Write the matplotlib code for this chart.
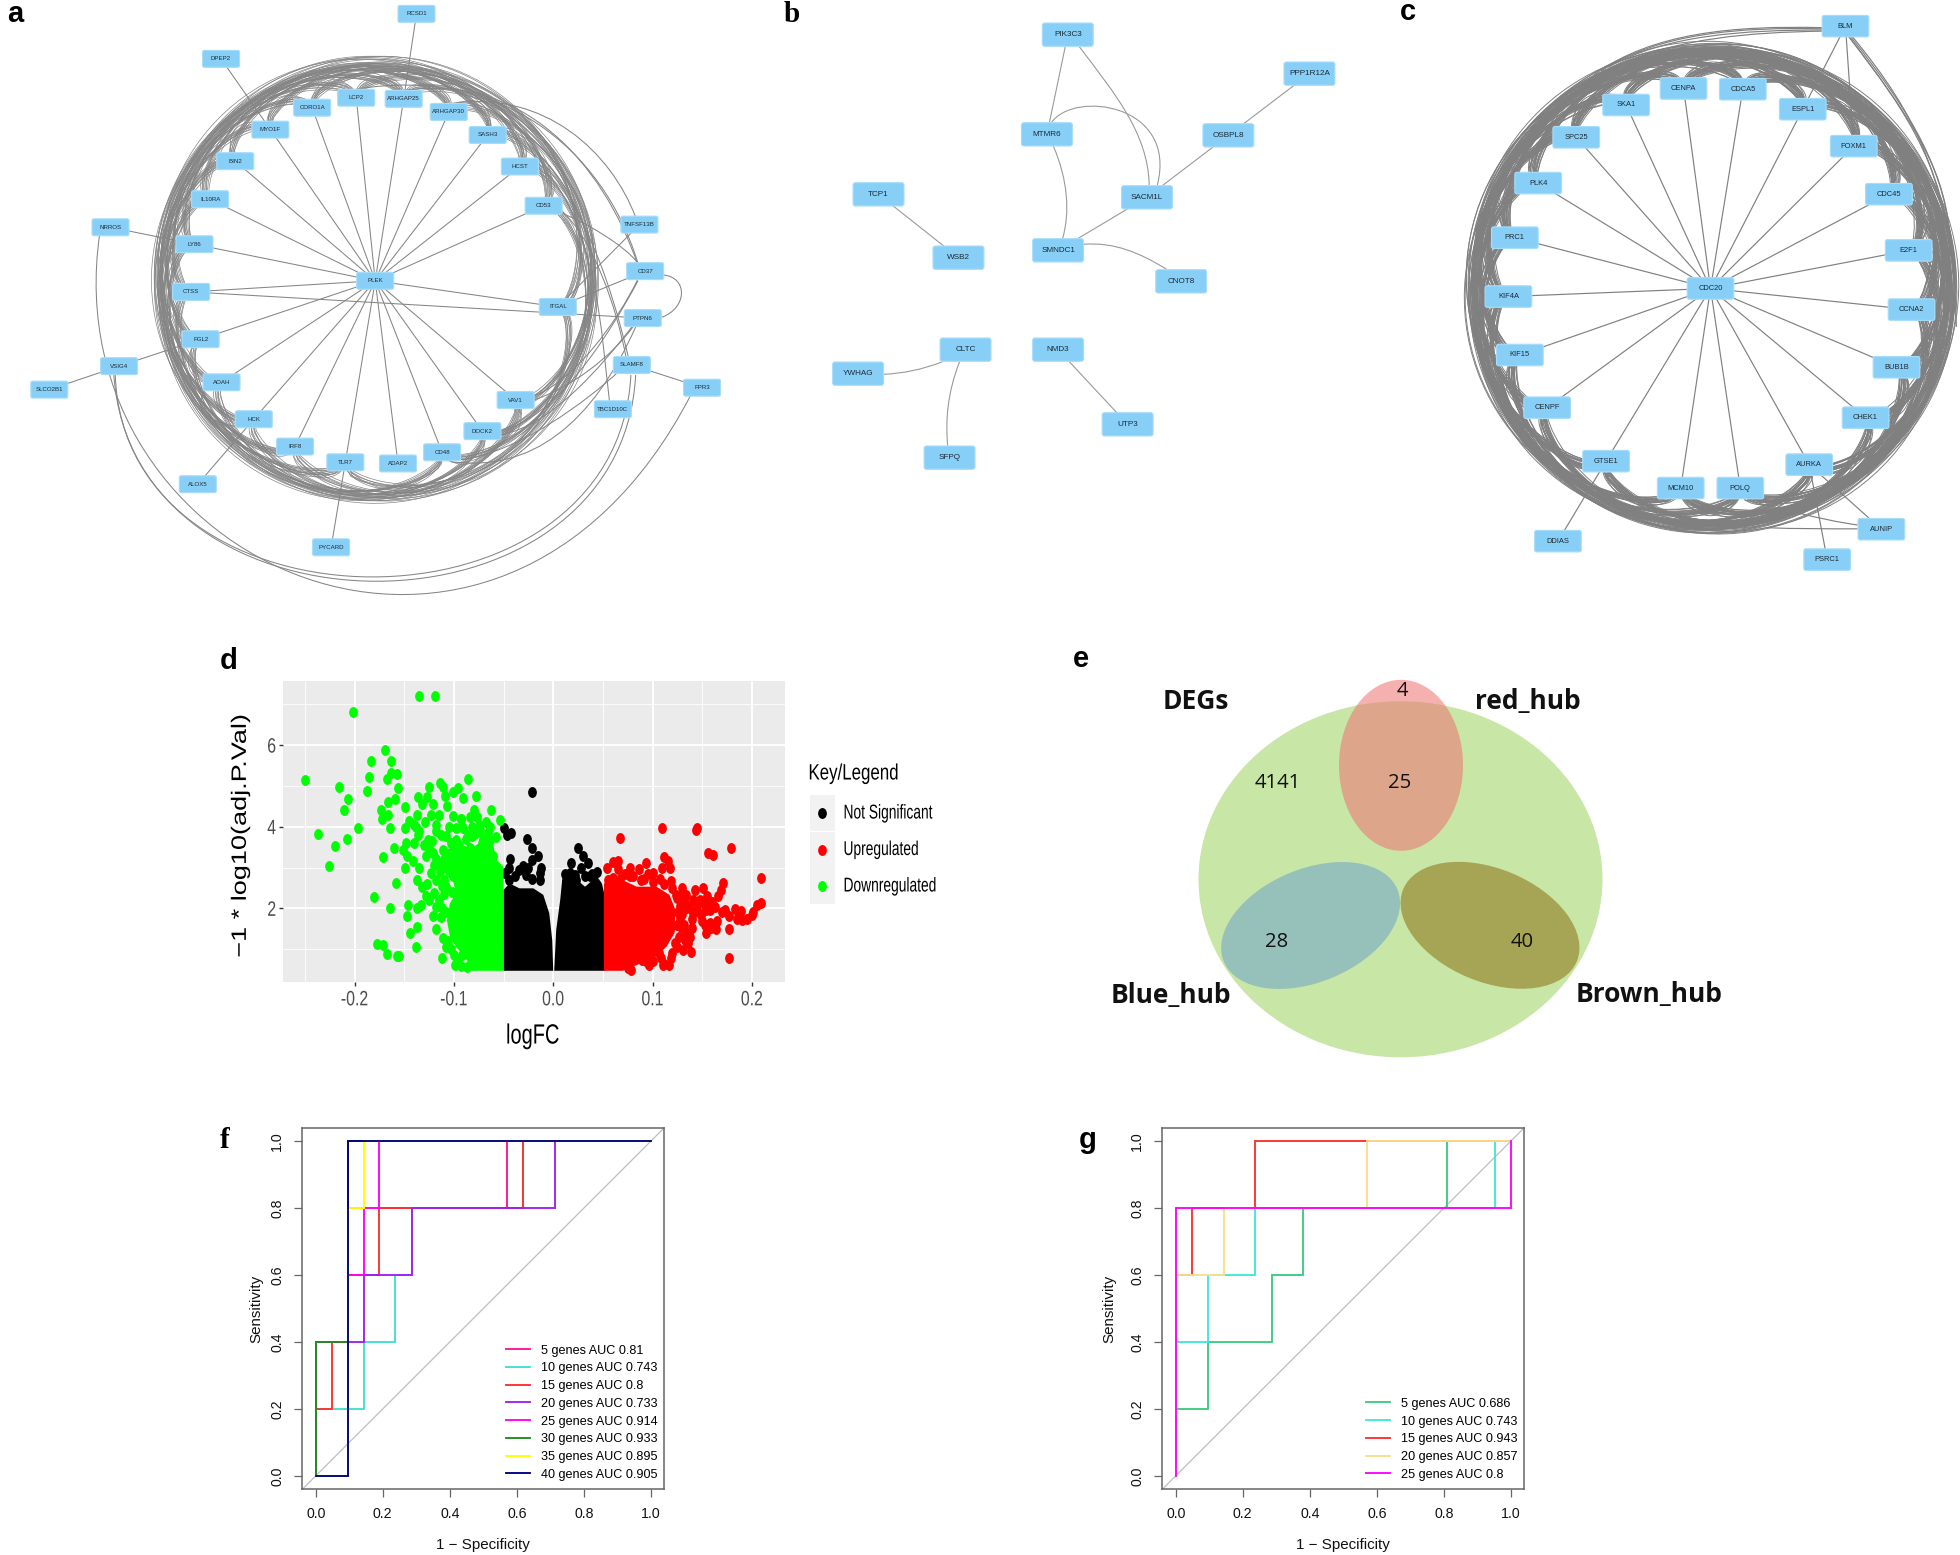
#!/usr/bin/env python
"""Hub-gene networks (a-c), volcano plot (d), Venn diagram (e) and ROC curves (f, g)."""
import numpy as np
import matplotlib
matplotlib.use("Agg")
import matplotlib.pyplot as plt
from matplotlib.collections import LineCollection
from matplotlib.patches import Ellipse, FancyBboxPatch, PathPatch, Rectangle
from matplotlib.path import Path
from matplotlib.patheffects import AbstractPathEffect
from matplotlib.transforms import Affine2D

plt.rcParams["font.family"] = ["Liberation Sans", "DejaVu Sans"]

# ---- network a: layout units are 1560 x 1560 over a 740 x 600 px panel
a_names = ["RCSD1", "DPEP2", "LCP2", "ARHGAP25", "CORO1A", "ARHGAP30", "MYO1F", "SASH3", "BIN2", "HCST",
           "IL10RA", "CD53", "TNFSF13B", "NRROS", "LY86", "CD37", "PLEK", "CTSS", "ITGAL", "PTPN6",
           "FGL2", "SLAMF8", "VSIG4", "AOAH", "SLCO2B1", "FPR3", "VAV1", "TBC1D10C", "HCK", "DOCK2",
           "IRF8", "CD48", "TLR7", "ADAP2", "ALOX5", "PYCARD"]
a_x = [878, 466, 751, 851, 658, 946, 570, 1028, 496, 1096, 443, 1146, 1348, 233, 410, 1360, 791, 403, 1176, 1355,
       423, 1332, 251, 467, 104, 1480, 1087, 1292, 535, 1017, 622, 932, 728, 839, 417, 698]
a_y = [36, 153, 254, 257, 280, 291, 337, 351, 419, 433, 518, 535, 584, 591, 635, 705, 730, 759, 798, 827,
       882, 949, 952, 994, 1013, 1008, 1040, 1064, 1090, 1121, 1161, 1176, 1202, 1205, 1259, 1423]
a_ring = ["LCP2", "ARHGAP25", "ARHGAP30", "SASH3", "HCST", "CD53", "ITGAL", "VAV1", "DOCK2", "CD48", "TLR7",
          "IRF8", "HCK", "AOAH", "FGL2", "CTSS", "LY86", "IL10RA", "BIN2", "MYO1F", "CORO1A"]
a_ring_steps = [1, 2, 3, 4, 5, 6, 7, 8, 9, 10]
a_spokes = a_ring + ["ADAP2"]
a_lines = [("RCSD1", "ARHGAP25"), ("DPEP2", "MYO1F"), ("NRROS", "LY86"), ("VSIG4", "FGL2"), ("SLCO2B1", "VSIG4"),
           ("SLAMF8", "FPR3"), ("ALOX5", "HCK"), ("PYCARD", "TLR7"), ("CTSS", "PTPN6"), ("ITGAL", "TNFSF13B"),
           ("ITGAL", "CD37")]
a_curves = [(210, 610, 110, 1470, 1050, 1990, 1455, 1030), (240, 975, 280, 1690, 1310, 1690, 1340, 975),
            (243, 975, 262, 1670, 1300, 1680, 1330, 975), (1398, 715, 1450, 720, 1450, 800, 1395, 825),
            (946, 270, 1150, 230, 1290, 400, 1340, 565), (751, 232, 1050, 170, 1270, 380, 1345, 685),
            (851, 235, 1100, 190, 1270, 420, 1345, 690), (1060, 340, 1220, 450, 1290, 750, 1325, 930),
            (1130, 420, 1260, 560, 1270, 900, 1285, 1045), (1185, 550, 1250, 620, 1300, 800, 1320, 930),
            (1185, 555, 1230, 575, 1320, 640, 1345, 685), (1125, 1040, 1200, 1010, 1290, 930, 1340, 840),
            (1125, 1030, 1210, 990, 1300, 840, 1345, 725), (1055, 1130, 1160, 1110, 1270, 950, 1335, 845),
            (1055, 1120, 1170, 1090, 1280, 880, 1345, 730), (970, 1195, 1090, 1180, 1240, 1040, 1305, 965),
            (950, 1200, 1120, 1230, 1250, 1100, 1340, 850), (430, 1020, 415, 1060, 420, 1090, 500, 1110)]

# ---- network b
b_names = ["PIK3C3", "PPP1R12A", "MTMR6", "OSBPL8", "TCP1", "SACM1L", "WSB2", "SMNDC1", "CNOT8", "CLTC",
           "NMD3", "YWHAG", "UTP3", "SFPQ"]
b_x = [774, 1424, 718, 1206, 265, 987, 480, 748, 1079, 499, 748, 210, 935, 456]
b_y = [104, 221, 403, 406, 583, 592, 773, 751, 844, 1049, 1049, 1121, 1273, 1373]
b_lines = [("PIK3C3", "MTMR6"), ("SACM1L", "SMNDC1"), ("SACM1L", "OSBPL8"), ("OSBPL8", "PPP1R12A"),
           ("TCP1", "WSB2"), ("NMD3", "UTP3")]
b_curves = [(805, 140, 900, 280, 990, 400, 993, 555), (730, 368, 790, 270, 1070, 310, 1015, 555),
            (735, 438, 775, 540, 780, 640, 760, 716), (815, 733, 900, 725, 970, 760, 1040, 808),
            (437, 1085, 380, 1110, 330, 1120, 278, 1123), (483, 1085, 450, 1180, 445, 1260, 451, 1338)]

# ---- network c
c_names = ["BLM", "CENPA", "CDCA5", "SKA1", "ESPL1", "SPC25", "FOXM1", "PLK4", "CDC45", "PRC1", "E2F1", "KIF4A",
           "CDC20", "CCNA2", "KIF15", "BUB1B", "CENPF", "CHEK1", "GTSE1", "AURKA", "MCM10", "POLQ", "DDIAS",
           "AUNIP", "PSRC1"]
c_x = [1241, 790, 955, 630, 1122, 491, 1264, 385, 1362, 320, 1417, 302,
       865, 1425, 334, 1383, 410, 1297, 574, 1140, 782, 948, 440, 1341, 1190]
c_y = [68, 230, 232, 273, 284, 357, 380, 476, 505, 618, 651, 771,
       750, 805, 923, 955, 1060, 1086, 1199, 1208, 1269, 1269, 1407, 1376, 1455]
c_ring = ["CENPA", "CDCA5", "ESPL1", "FOXM1", "CDC45", "E2F1", "CCNA2", "BUB1B", "CHEK1", "AURKA", "POLQ",
          "MCM10", "GTSE1", "CENPF", "KIF15", "KIF4A", "PRC1", "PLK4", "SPC25", "SKA1"]
c_lines = [("BLM", "ESPL1"), ("BLM", "FOXM1"), ("DDIAS", "GTSE1"), ("AUNIP", "AURKA"), ("PSRC1", "AURKA")]
c_curves = [(1178, 75, 950, 70, 720, 85, 560, 185), (1178, 78, 960, 78, 740, 90, 580, 175),
            (1178, 81, 970, 84, 780, 100, 620, 165), (1178, 72, 930, 66, 700, 85, 540, 195),
            (1250, 95, 1420, 300, 1530, 450, 1545, 750), (1255, 95, 1430, 300, 1525, 450, 1535, 650),
            (1260, 95, 1440, 300, 1535, 470, 1550, 850), (1250, 95, 1410, 290, 1515, 430, 1530, 600),
            (1275, 1375, 1200, 1375, 1100, 1375, 1020, 1372), (1275, 1365, 1160, 1350, 1060, 1320, 960, 1300)]

# ---- volcano plot d
d_xticks = [-0.2, -0.1, 0.0, 0.1, 0.2]
d_xlabels = ["-0.2", "-0.1", "0.0", "0.1", "0.2"]
d_yticks = [2, 4, 6]
# overplotted points merge into solid areas: outlines of those areas
green_core_x = [-0.050, -0.082, -0.088, -0.098, -0.104, -0.107, -0.104, -0.098, -0.101, -0.111, -0.111, -0.098, -0.084,
                -0.071, -0.061, -0.057, -0.050]
green_core_y = [0.47, 0.47, 0.78, 1.06, 1.31, 1.71, 2.12, 2.37, 2.69, 3.02, 3.35, 3.59, 3.43, 3.67, 3.59, 3.18, 3.02]
black_left_x = [-0.050, -0.050, -0.044, -0.034, -0.020, -0.010, -0.004, -0.001, 0.000]
black_left_y = [0.47, 2.45, 2.61, 2.49, 2.49, 2.33, 1.88, 1.22, 0.47]
black_right_x = [0.001, 0.003, 0.007, 0.009, 0.020, 0.032, 0.044, 0.049, 0.052, 0.052]
black_right_y = [0.47, 1.47, 2.20, 2.69, 2.78, 2.53, 2.78, 2.61, 2.29, 0.47]
red_core_x = [0.051, 0.051, 0.070, 0.084, 0.104, 0.117, 0.123, 0.122, 0.114, 0.104, 0.084, 0.070]
red_core_y = [0.47, 2.61, 2.69, 2.53, 2.53, 2.33, 1.96, 1.39, 1.06, 0.83, 0.61, 0.47]
green_x = [-0.250, -0.237, -0.226, -0.220, -0.208, -0.197, -0.211, -0.207, -0.216, -0.202, -0.135, -0.119, -0.169, -0.183,
           -0.163, -0.185, -0.187, -0.167, -0.163, -0.157, -0.156, -0.159, -0.166, -0.149, -0.173, -0.172, -0.166, -0.164,
           -0.160, -0.171, -0.149, -0.158, -0.180, -0.164, -0.146, -0.147, -0.137, -0.144, -0.137, -0.138, -0.177, -0.171,
           -0.167, -0.157, -0.155, -0.112, -0.125, -0.114, -0.111, -0.096, -0.086, -0.078, -0.091, -0.101, -0.109, -0.136,
           -0.127, -0.132, -0.121, -0.107, -0.080, -0.063, -0.054, -0.101, -0.115, -0.123, -0.137, -0.145, -0.149, -0.138,
           -0.129, -0.118, -0.093, -0.077, -0.068, -0.064, -0.074, -0.082, -0.098, -0.091, -0.113, -0.108, -0.136, -0.126,
           -0.140, -0.148, -0.151, -0.147, -0.141, -0.135, -0.128, -0.121, -0.111, -0.098, -0.084, -0.071, -0.064, -0.074,
           -0.061, -0.123, -0.118, -0.137, -0.132, -0.128, -0.120, -0.133, -0.118, -0.121, -0.113, -0.118, -0.111, -0.108,
           -0.100, -0.099, -0.093, -0.087, -0.108, -0.101, -0.108, -0.105, -0.100, -0.095, -0.090, -0.085, -0.080, -0.075,
           -0.070, -0.065, -0.095, -0.103, -0.110, -0.115, -0.118, -0.105, -0.110, -0.102, -0.110, -0.115, -0.112, -0.108,
           -0.125, -0.130, -0.122, -0.118, -0.135, -0.140, -0.105, -0.088, -0.082, -0.078, -0.072, -0.090, -0.098, -0.112,
           -0.125, -0.106, -0.103, -0.092, -0.096, -0.086, -0.075, -0.066, -0.058, -0.093, -0.084, -0.120, -0.127, -0.114]
green_y = [5.14, 3.83, 3.03, 3.53, 3.69, 3.97, 4.42, 4.67, 4.97, 6.82, 7.21, 7.21, 5.89, 5.62,
           5.61, 5.21, 4.87, 5.18, 5.31, 5.29, 4.96, 4.68, 4.60, 4.49, 4.41, 4.18, 4.29, 3.96,
           3.49, 3.26, 3.00, 2.61, 2.28, 2.00, 2.07, 1.82, 2.02, 1.40, 1.55, 1.06, 1.13, 1.09,
           0.87, 0.82, 0.84, 0.78, 4.97, 5.06, 4.98, 4.96, 5.18, 4.76, 4.71, 4.86, 4.75, 4.74,
           4.72, 4.56, 4.56, 4.50, 4.41, 4.41, 4.16, 4.27, 4.28, 4.29, 4.29, 4.15, 3.96, 4.00,
           4.12, 4.04, 4.19, 4.23, 4.12, 4.00, 3.93, 3.76, 3.96, 3.96, 3.80, 3.76, 3.80, 3.67,
           3.59, 3.59, 3.43, 3.27, 3.16, 3.00, 3.27, 3.35, 3.43, 3.67, 3.47, 3.71, 3.67, 3.43,
           3.27, 2.87, 2.69, 2.69, 2.53, 2.29, 2.37, 2.08, 2.04, 1.80, 1.78, 1.49, 1.27, 1.06,
           0.86, 0.61, 0.59, 0.56, 3.02, 2.78, 2.53, 3.20, 3.10, 3.25, 3.40, 3.20, 3.35, 3.25,
           3.15, 3.45, 3.55, 3.60, 3.20, 3.10, 3.20, 2.90, 2.70, 2.40, 2.35, 2.20, 2.00, 1.90,
           3.45, 3.55, 3.65, 3.90, 3.90, 4.05, 4.00, 3.70, 4.00, 3.85, 3.60, 3.00, 2.85, 2.55,
           2.20, 1.20, 1.00, 0.85, 0.75, 3.80, 4.05, 3.85, 3.75, 4.20, 4.25, 3.05, 2.60, 2.90]
black_x = [-0.021, -0.050, -0.047, -0.042, -0.026, -0.021, -0.015, -0.021, -0.044, -0.045, -0.012, -0.030, -0.034, -0.025,
           -0.027, -0.013, -0.021, -0.038, -0.045, -0.049, -0.013, 0.025, 0.030, 0.018, 0.028, 0.035, 0.012, 0.017,
           0.022, 0.032, 0.039, 0.044, 0.037, 0.013, 0.023]
black_y = [4.86, 3.98, 3.80, 3.84, 3.71, 3.47, 3.28, 3.18, 3.22, 3.00, 3.00, 3.04, 2.94, 2.98,
           2.82, 2.69, 2.71, 2.78, 2.69, 2.87, 2.86, 3.48, 3.28, 3.10, 3.00, 3.12, 2.84, 2.86,
           2.82, 2.78, 2.84, 2.90, 2.78, 2.69, 2.69]
red_x = [0.067, 0.109, 0.144, 0.145, 0.179, 0.156, 0.161, 0.209, 0.209, 0.205, 0.177, 0.177, 0.112, 0.116, 0.118, 0.109,
         0.093, 0.100, 0.086, 0.077, 0.065, 0.060, 0.054, 0.065, 0.067, 0.077, 0.091, 0.107, 0.119, 0.130, 0.143, 0.151,
         0.171, 0.169, 0.166, 0.134, 0.124, 0.141, 0.133, 0.153, 0.163, 0.154, 0.173, 0.183, 0.189, 0.177, 0.190, 0.195,
         0.200, 0.201, 0.141, 0.149, 0.158, 0.164, 0.153, 0.154, 0.159, 0.140, 0.128, 0.129, 0.134, 0.133, 0.136, 0.139,
         0.131, 0.123, 0.119, 0.117, 0.112, 0.110, 0.094, 0.089, 0.106, 0.097, 0.126, 0.138, 0.146,
         0.055, 0.060, 0.072, 0.080, 0.088, 0.095, 0.100, 0.112, 0.120, 0.125, 0.130, 0.128, 0.135, 0.140, 0.145, 0.150,
         0.132, 0.138, 0.127, 0.125, 0.120, 0.108, 0.100, 0.096, 0.078, 0.075, 0.165, 0.170, 0.185, 0.158, 0.148, 0.155,
         0.160, 0.118, 0.125, 0.130]
red_y = [3.72, 3.98, 3.93, 3.98, 3.48, 3.35, 3.31, 2.75, 2.14, 2.07, 0.78, 1.49, 3.25, 3.17, 3.00, 3.00,
         3.10, 2.86, 2.96, 2.98, 3.16, 3.14, 2.98, 2.96, 2.73, 2.78, 2.73, 2.73, 2.67, 2.51, 2.45, 2.49,
         2.61, 2.45, 2.29, 2.33, 2.33, 2.20, 2.12, 2.08, 2.04, 1.96, 1.96, 1.98, 1.93, 1.80, 1.71, 1.73,
         1.84, 1.90, 1.88, 1.84, 1.63, 1.49, 1.59, 1.39, 1.51, 1.51, 1.76, 1.55, 1.39, 1.22, 1.14, 0.94,
         0.98, 1.14, 0.79, 0.61, 0.63, 0.61, 0.69, 0.73, 0.90, 0.94, 1.92, 2.04, 2.12,
         2.70, 2.75, 2.85, 2.80, 2.70, 2.85, 2.65, 2.60, 2.50, 2.25, 2.30, 2.05, 2.00, 1.75, 1.95, 1.70,
         1.60, 1.30, 1.30, 1.05, 0.90, 0.78, 0.72, 0.60, 0.50, 0.55, 1.70, 1.90, 1.75, 1.95, 2.20, 2.30,
         2.15, 1.50, 1.60, 1.85]
d_legend = ["Not Significant", "Upregulated", "Downregulated"]

# ---- Venn e
venn_counts = ["4", "4141", "25", "28", "40"]
venn_names = ["DEGs", "red_hub", "Blue_hub", "Brown_hub"]

# ---- ROC f
f_labels = ["5 genes AUC 0.81", "10 genes AUC 0.743", "15 genes AUC 0.8", "20 genes AUC 0.733",
            "25 genes AUC 0.914", "30 genes AUC 0.933", "35 genes AUC 0.895", "40 genes AUC 0.905"]
f_colors = ["#FF1493", "#40E0D0", "#FF3030", "#A020F0", "#FF00FF", "#228B22", "#FFFF00", "#000080"]
f5_x = [0, 0.095, 0.095, 0.571, 0.571, 1]
f5_y = [0, 0, 0.8, 0.8, 1, 1]
f10_x = [0, 0, 0.143, 0.143, 0.238, 0.238, 0.286, 0.286, 0.619, 0.619, 1]
f10_y = [0, 0.2, 0.2, 0.4, 0.4, 0.6, 0.6, 0.8, 0.8, 1, 1]
f15_x = [0, 0, 0.048, 0.048, 0.095, 0.095, 0.19, 0.19, 0.619, 0.619, 1]
f15_y = [0, 0.2, 0.2, 0.4, 0.4, 0.6, 0.6, 0.8, 0.8, 1, 1]
f20_x = [0, 0.095, 0.095, 0.143, 0.143, 0.286, 0.286, 0.714, 0.714, 1]
f20_y = [0, 0, 0.4, 0.4, 0.6, 0.6, 0.8, 0.8, 1, 1]
f25_x = [0, 0, 0.095, 0.095, 0.143, 0.143, 0.19, 0.19, 1]
f25_y = [0, 0.4, 0.4, 0.6, 0.6, 0.8, 0.8, 1, 1]
f30_x = [0, 0, 0.095, 0.095, 1]
f30_y = [0, 0.4, 0.4, 1, 1]
f35_x = [0, 0.095, 0.095, 0.143, 0.143, 1]
f35_y = [0, 0, 0.8, 0.8, 1, 1]
f40_x = [0, 0.095, 0.095, 1]
f40_y = [0, 0, 1, 1]
f_xs = [f5_x, f10_x, f15_x, f20_x, f25_x, f30_x, f35_x, f40_x]
f_ys = [f5_y, f10_y, f15_y, f20_y, f25_y, f30_y, f35_y, f40_y]

# ---- ROC g
g_labels = ["5 genes AUC 0.686", "10 genes AUC 0.743", "15 genes AUC 0.943", "20 genes AUC 0.857", "25 genes AUC 0.8"]
g_colors = ["#3CCB80", "#40E8D8", "#FF3030", "#F8E08A", "#FF00FF"]
g5_x = [0, 0, 0.095, 0.095, 0.286, 0.286, 0.381, 0.381, 0.81, 0.81, 1]
g5_y = [0, 0.2, 0.2, 0.4, 0.4, 0.6, 0.6, 0.8, 0.8, 1, 1]
g10_x = [0, 0, 0.095, 0.095, 0.238, 0.238, 0.952, 0.952, 1]
g10_y = [0, 0.4, 0.4, 0.6, 0.6, 0.8, 0.8, 1, 1]
g15_x = [0, 0, 0.048, 0.048, 0.238, 0.238, 1]
g15_y = [0, 0.6, 0.6, 0.8, 0.8, 1, 1]
g20_x = [0, 0, 0.143, 0.143, 0.571, 0.571, 1]
g20_y = [0, 0.6, 0.6, 0.8, 0.8, 1, 1]
g25_x = [0, 0, 1, 1]
g25_y = [0, 0.8, 0.8, 1]
g_xs = [g5_x, g10_x, g15_x, g20_x, g25_x]
g_ys = [g5_y, g10_y, g15_y, g20_y, g25_y]
roc_ticks = [0.0, 0.2, 0.4, 0.6, 0.8, 1.0]

W, H = 1960, 1555
fig = plt.figure(figsize=(W / 100, H / 100), dpi=100, facecolor="white")


def px_axes(left, top, right, bottom):
    return fig.add_axes([left / W, 1 - bottom / H, (right - left) / W, (bottom - top) / H])


class Stretch(AbstractPathEffect):
    # the d panel was squashed as an image, so its text is narrow and tall
    def __init__(self, sx=1.0, sy=1.0, left=False):
        super().__init__()
        self.sx, self.sy, self.left = sx, sy, left

    def draw_path(self, renderer, gc, tpath, affine, rgbFace=None):
        box = tpath.get_extents(affine)
        px = box.x0 if self.left else (box.x0 + box.x1) / 2
        py = (box.y0 + box.y1) / 2
        t = affine + Affine2D().translate(-px, -py).scale(self.sx, self.sy).translate(px, py)
        renderer.draw_path(gc, tpath, t, rgbFace)


def draw_curves(ax, curves, color, lw):
    codes = [Path.MOVETO, Path.CURVE4, Path.CURVE4, Path.CURVE4]
    for c in curves:
        verts = [(c[0], c[1]), (c[2], c[3]), (c[4], c[5]), (c[6], c[7])]
        ax.add_patch(PathPatch(Path(verts, codes), fc="none", ec=color, lw=lw, zorder=2))


def ring_edge(p, q, centre, radii, rmin, rmax, spread):
    # route along the outer band: leave the node steeply, then follow the ring
    # spread (0-1) separates edges that would otherwise share one radius
    cx, cy = centre
    rx, ry = radii
    u = np.array([(p[0] - cx) / rx, (p[1] - cy) / ry])
    v = np.array([(q[0] - cx) / rx, (q[1] - cy) / ry])
    a0, a1 = np.arctan2(u[1], u[0]), np.arctan2(v[1], v[0])
    da = (a1 - a0 + np.pi) % (2 * np.pi) - np.pi
    t = np.linspace(0, 1, 60)
    base = np.hypot(*u) + (np.hypot(*v) - np.hypot(*u)) * t
    top = rmin + (rmax - rmin) * (abs(da) / np.pi) ** 0.4 * (0.72 + 0.28 * spread)
    rho = base + (top - base) * np.sin(np.pi * t) ** (0.3 + 0.35 * spread)
    ang = a0 + da * t
    return np.column_stack([cx + rx * rho * np.cos(ang), cy + ry * rho * np.sin(ang)])


def draw_nodes(ax, names, xs, ys, w, h, size):
    for name, x, y in zip(names, xs, ys):
        ax.add_patch(FancyBboxPatch((x - w / 2, y - h / 2), w, h, boxstyle=f"round,pad=0,rounding_size={h * 0.1}",
                                    fc="#88CFF8", ec="#A8DDFA", lw=0.8, zorder=3))
        ax.text(x, y, name, ha="center", va="center", fontsize=size, color="#1c2a33", zorder=4)


def network_axes(left, top, right, bottom, xmax, ymax):
    ax = px_axes(left, top, right, bottom)
    ax.set_xlim(0, xmax)
    ax.set_ylim(ymax, 0)
    ax.axis("off")
    return ax


# ---- a
ax_a = network_axes(0, 0, 740, 600, 1560, 1560)
pos = dict(zip(a_names, zip(a_x, a_y)))
segs = [[pos["PLEK"], pos[n]] for n in a_spokes] + [[pos[p], pos[q]] for p, q in a_lines]
ax_a.add_collection(LineCollection(segs, colors="#858585", linewidths=0.75, zorder=2))
arcs = []
for i, n in enumerate(a_ring):
    for step in a_ring_steps:
        j = (i + step) % len(a_ring)
        arcs.append(ring_edge(pos[n], pos[a_ring[j]], (792, 730), (477, 590), 0.86, 1.0, ((i * 7 + j * 13) % 11) / 10))
ax_a.add_collection(LineCollection(arcs, colors="#858585", linewidths=0.5, zorder=2))
draw_curves(ax_a, a_curves, "#858585", 0.75)
draw_nodes(ax_a, a_names, a_x, a_y, 78, 44, 4.4)

# ---- b
ax_b = network_axes(780, 0, 1360, 500, 1560, 1500)
pos = dict(zip(b_names, zip(b_x, b_y)))
ax_b.add_collection(LineCollection([[pos[p], pos[q]] for p, q in b_lines], colors="#9a9a9a", linewidths=0.8, zorder=2))
draw_curves(ax_b, b_curves, "#9a9a9a", 0.8)
draw_nodes(ax_b, b_names, b_x, b_y, 137, 70, 5.9)

# ---- c: ring nodes all connect to each other
ax_c = network_axes(1400, 0, 1960, 600, 1560, 1560)
pos = dict(zip(c_names, zip(c_x, c_y)))
segs = [[pos["CDC20"], pos[n]] for n in c_ring] + [[pos[p], pos[q]] for p, q in c_lines]
ax_c.add_collection(LineCollection(segs, colors="#808080", linewidths=0.85, zorder=2))
arcs = []
for i, n in enumerate(c_ring):
    for j, m in enumerate(c_ring):
        if j != i:
            arcs.append(ring_edge(pos[n], pos[m], (866, 750), (694, 645), 0.865, 1.0, ((i * 7 + j * 13) % 11) / 10))
ax_c.add_collection(LineCollection(arcs, colors="#808080", linewidths=0.7, zorder=2))
draw_curves(ax_c, c_curves, "#808080", 0.85)
draw_nodes(ax_c, c_names, c_x, c_y, 130, 56, 5.4)

# ---- d
ax_d = px_axes(283, 681, 785, 982)
ax_d.set_facecolor("#EBEBEB")
ax_d.set_xlim(-0.272, 0.2333)
ax_d.set_ylim(0.195, 7.57)
for s in ax_d.spines.values():
    s.set_visible(False)
ax_d.set_xticks(d_xticks, d_xlabels)
ax_d.set_yticks(d_yticks)
ax_d.set_xticks([-0.25, -0.15, -0.05, 0.05, 0.15], minor=True)
ax_d.set_yticks([1, 3, 5, 7], minor=True)
ax_d.grid(which="major", color="white", lw=1.3)
ax_d.grid(which="minor", color="white", lw=0.6)
ax_d.set_axisbelow(True)
ax_d.tick_params(which="minor", length=0)
ax_d.tick_params(which="major", length=3, width=1, color="#333333", labelcolor="#4D4D4D", labelsize=15)
ax_d.tick_params(axis="x", pad=3)
ax_d.tick_params(axis="y", pad=1)
for lab in ax_d.get_xticklabels() + ax_d.get_yticklabels():
    lab.set_path_effects([Stretch(sx=0.76)])
dot = Path.unit_circle().transformed(Affine2D().scale(0.8, 1.0))
ax_d.fill(black_left_x, black_left_y, color="black", lw=0, zorder=2)
ax_d.fill(black_right_x, black_right_y, color="black", lw=0, zorder=2)
ax_d.scatter(black_x, black_y, s=62, marker=dot, color="black", lw=0, zorder=2)
ax_d.fill(red_core_x, red_core_y, color="#FF0000", lw=0, zorder=3)
ax_d.scatter(red_x, red_y, s=62, marker=dot, color="#FF0000", lw=0, zorder=3)
ax_d.fill(green_core_x, green_core_y, color="#00FF00", lw=0, zorder=4)
ax_d.scatter(green_x, green_y, s=62, marker=dot, color="#00FF00", lw=0, zorder=4)
ax_d.set_xlabel("logFC", fontsize=20, color="black", path_effects=[Stretch(sx=0.72)])
ax_d.xaxis.set_label_coords(0.497, -0.138)
ax_d.set_ylabel("\u22121 * log10(adj.P.Val)", fontsize=15, color="black", path_effects=[Stretch(sy=1.3)])
ax_d.yaxis.set_label_coords(-0.066, 0.486)

# ---- overlay for letters and the d legend, in picture pixels
bg = network_axes(0, 0, W, H, W, H)
bg.set_zorder(5)
bg.patch.set_alpha(0)
letters = [("a", 7, 22, "sans"), ("b", 784, 22, "serif"), ("c", 1400, 20, "sans"), ("d", 220, 669, "sans"),
           ("e", 1073, 667, "sans"), ("f", 220, 1148, "serif"), ("g", 1079, 1148, "sans")]
for ch, x, y, fam in letters:
    bg.text(x, y, ch, fontsize=21, fontweight="bold", va="baseline",
            family="Liberation Serif" if fam == "serif" else "Liberation Sans")
bg.text(808, 774, "Key/Legend", fontsize=16, va="center", path_effects=[Stretch(sx=0.76, left=True)])
for i, (lab, col) in enumerate(zip(d_legend, ["black", "#FF0000", "#00FF00"])):
    y = 813 + 36.5 * i
    bg.add_patch(Rectangle((810, y - 18), 25, 36, fc="#F2F2F2", ec="none"))
    bg.scatter([822], [y], s=62, marker=dot, color=col, lw=0)
    bg.text(843, y, lab, fontsize=14.4, va="center", path_effects=[Stretch(sx=0.69, left=True)])

# ---- e
ax_e = network_axes(1060, 640, 1740, 1080, 680, 440)
ax_e.add_patch(Ellipse((340.5, 239.3), 404, 356, fc="#C8E6A5", ec="none", zorder=1))
ax_e.add_patch(Ellipse((341, 125.3), 124, 171, fc="#EE7474", alpha=0.57, ec="none", zorder=2))
ax_e.add_patch(Ellipse((250.6, 285.5), 188, 113, angle=-22.6, fc="#96C0BA", ec="none", zorder=2))
ax_e.add_patch(Ellipse((430, 285.3), 188, 113, angle=22.6, fc="#A6A556", ec="none", zorder=2))
count_pos = [(342, 50.5), (218, 142.5), (340, 142.5), (216.7, 302), (462.5, 302)]
for t, (x, y) in zip(venn_counts, count_pos):
    ax_e.text(x, y, t, ha="center", va="center", fontsize=14.6, family="Open Sans", color="#111111", zorder=5)
name_pos = [(136, 61.5), (468, 61.5), (111, 355.5), (589, 354.5)]
for t, (x, y) in zip(venn_names, name_pos):
    ax_e.text(x, y, t, ha="center", va="center", fontsize=19, fontweight="bold", family="Open Sans", color="#111111", zorder=5)


# ---- f, g
def roc_axes(left, xs, ys, labels, colors, ylab_x):
    ax = px_axes(left, 1127.7, left + 362, 1489.3)
    ax.set_xlim(-0.04, 1.04)
    ax.set_ylim(-0.04, 1.04)
    ax.axline((0, 0), slope=1, color="#BEBEBE", lw=0.9)
    for x, y, lab, col in zip(xs, ys, labels, colors):
        ax.plot(x, y, color=col, lw=1.35, label=lab, solid_joinstyle="miter")
    ax.set_xticks(roc_ticks, [f"{v:.1f}" for v in roc_ticks])
    ax.set_yticks(roc_ticks, [f"{v:.1f}" for v in roc_ticks], rotation=90, va="center")
    ax.tick_params(length=6, width=0.9, color="#666666", labelsize=10.2, labelcolor="#111111", pad=7)
    for s in ax.spines.values():
        s.set_color("#666666")
        s.set_linewidth(1.1)
    ax.set_xlabel("1 \u2212 Specificity", fontsize=10.9, color="#111111")
    ax.xaxis.set_label_coords(0.5, -0.135)
    ax.set_ylabel("Sensitivity", fontsize=10.9, color="#111111")
    ax.yaxis.set_label_coords(ylab_x, 0.5)
    ax.legend(loc="lower left", bbox_to_anchor=(0.562, 0.024), frameon=False, fontsize=9.1, borderpad=0,
              borderaxespad=0, handlelength=1.9, handletextpad=0.87, labelspacing=0.45)
    return ax


roc_axes(302.3, f_xs, f_ys, f_labels, f_colors, -0.108)
roc_axes(1162.3, g_xs, g_ys, g_labels, g_colors, -0.128)

fig.savefig("out.png", dpi=100)
